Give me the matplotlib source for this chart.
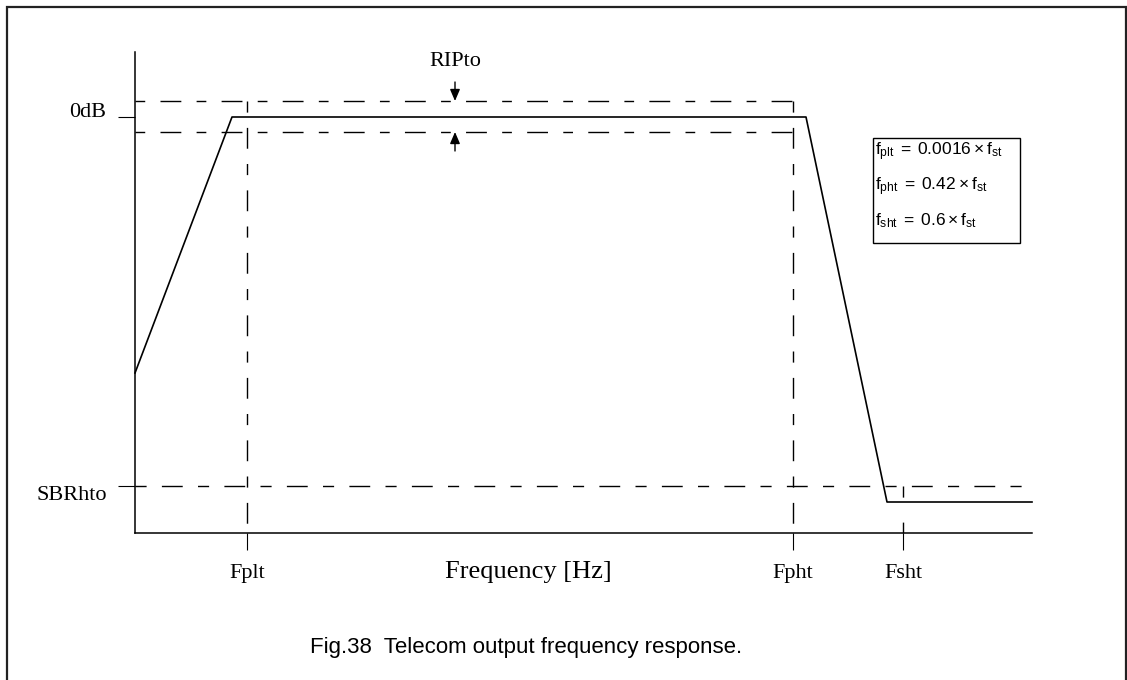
'''
Telecom output frequency response (Fig.38) - schematic filter mask
'''

import matplotlib
matplotlib.use('Agg')
import matplotlib.pyplot as plt
from matplotlib.patches import Rectangle

plt.rcParams['lines.scale_dashes'] = False
plt.rcParams['mathtext.fontset'] = 'custom'
plt.rcParams['mathtext.rm'] = 'Liberation Sans'
plt.rcParams['mathtext.it'] = 'Liberation Sans'

# response curve (arbitrary units, origin at the axis corner)
resp_x = [0, 97, 671, 752, 897]
resp_y = [160, 416, 416, 31, 31]

# levels
rip_hi = 432
rip_lo = 401
level_0db = 416
level_sbr = 47

# frequency markers
f_names = ['Fplt', 'Fpht', 'Fsht']
f_pos = [112, 658, 768]

x_max = 897
y_max = 481

box_lines = [r'$\mathrm{f_{plt}}\;=\;0.0016\times\mathrm{f_{st}}$',
             r'$\mathrm{f_{pht}}\;=\;0.42\times\mathrm{f_{st}}$',
             r'$\mathrm{f_{sht}}\;=\;0.6\times\mathrm{f_{st}}$']

W, H = 1127, 680
fig = plt.figure(figsize=(W / 100, H / 100), dpi=100)
ax = fig.add_axes([135 / W, (H - 533) / H, 897 / W, 481 / H])
ax.set_xlim(0, x_max)
ax.set_ylim(0, y_max)
ax.spines['top'].set_visible(False)
ax.spines['right'].set_visible(False)
for s in ('left', 'bottom'):
    ax.spines[s].set_linewidth(1.1)

serif = 'Liberation Serif'
lw = 1.0
pat = (0, (8, 11, 15, 11))

# response
ax.plot(resp_x, resp_y, color='black', lw=1.2, clip_on=False)

# ripple band + stop band level
ax.plot([0, f_pos[1]], [rip_hi, rip_hi], color='black', lw=lw, linestyle=(0, (7, 11, 15, 11)), clip_on=False)
ax.plot([0, f_pos[1]], [rip_lo, rip_lo], color='black', lw=lw, linestyle=(0, (7, 11, 15, 11)), clip_on=False)
ax.plot([0, x_max], [level_sbr, level_sbr], color='black', lw=lw, linestyle=pat, clip_on=False)

# vertical frequency markers
for xp in f_pos[:2]:
    ax.plot([xp, xp], [rip_hi, 0], color='black', lw=lw, linestyle=pat, clip_on=False)
ax.plot([f_pos[2], f_pos[2]], [level_sbr, 0], color='black', lw=lw, linestyle=(0, (8, 18, 15, 30)), clip_on=False)

# ticks
ax.set_yticks([level_sbr, level_0db])
ax.set_yticklabels(['SBRhto', '0dB'], fontfamily=serif, fontsize=16)
ax.tick_params(axis='y', direction='out', length=12.5, width=0.8, pad=8)
ylabs = ax.get_yticklabels()
ylabs[0].set_va('top')
ylabs[1].set_va('baseline')

ax.set_xticks(f_pos)
ax.set_xticklabels(f_names, fontfamily=serif, fontsize=16)
ax.tick_params(axis='x', direction='out', length=12, width=0.8, pad=10)

ax.text(0.439, -0.082, 'Frequency [Hz]', transform=ax.transAxes, ha='center', va='center',
        fontfamily=serif, fontsize=19)

# ripple arrows
arrow = dict(arrowstyle='-|>,head_length=0.7,head_width=0.3', color='black', lw=1.0, shrinkA=0, shrinkB=0)
ax.annotate('', xy=(320, rip_hi), xytext=(320, rip_hi + 19), arrowprops=arrow, annotation_clip=False)
ax.annotate('', xy=(320, rip_lo), xytext=(320, rip_lo - 19), arrowprops=arrow, annotation_clip=False)
ax.text(320, rip_hi + 40, 'RIPto', ha='center', va='center', fontfamily=serif, fontsize=16)

# formula box
fig.patches.append(Rectangle((873 / W, 1 - 243 / H), 147 / W, 105 / H, transform=fig.transFigure,
                             fill=False, edgecolor='black', lw=1.0))
for i, s in enumerate(box_lines):
    fig.text(875 / W, 1 - (152 + 34.5 * i) / H, s, ha='left', va='center', fontsize=12.5)

# caption and outer frame
fig.text(526 / W, 1 - 648 / H, 'Fig.38  Telecom output frequency response.', ha='center', va='center',
         fontfamily='Liberation Sans', fontsize=16)
fig.patches.append(Rectangle((7 / W, -0.05), 1119 / W, 1 - 7 / H + 0.05, transform=fig.transFigure,
                             fill=False, edgecolor='#222222', lw=1.6))

fig.savefig('out.png', dpi=100)
